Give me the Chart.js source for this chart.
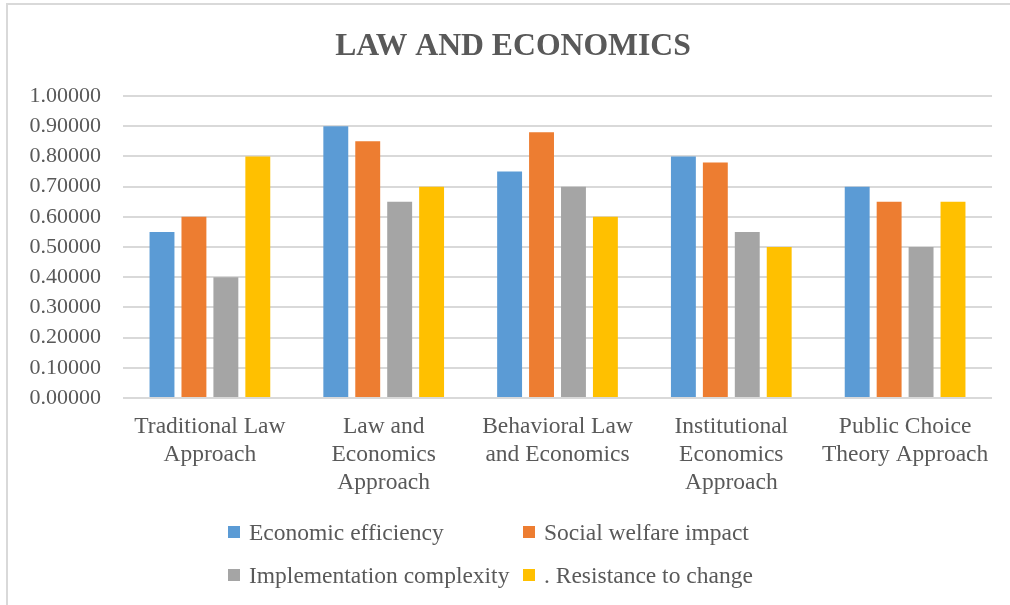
<!DOCTYPE html>
<html>
<head>
<meta charset="utf-8">
<script src="https://cdn.jsdelivr.net/npm/chart.js@4.4.0/dist/chart.umd.min.js"></script>
<style>
    body { margin: 0; background: #fff; }
    #wrap { position: relative; width: 1010px; height: 605px; overflow: hidden; }
    #frame { position: absolute; left: 6px; top: 3px; width: 1100px; height: 700px; border-left: 2px solid #d9d9d9; border-top: 2px solid #d9d9d9; }
    canvas { position: absolute; left: 0; top: 0; }
    #legend { position: absolute; left: 228px; top: 518px; display: grid; grid-template-columns: 295px auto; row-gap: 15px;
              font-family: "Liberation Serif", "Times New Roman", serif; font-size: 23.5px; color: #595959; }
    .item { display: flex; align-items: center; height: 28px; white-space: nowrap; }
    .swatch { width: 12px; height: 12px; margin-right: 9px; flex: none; }
</style>
</head>
<body>
<div id="wrap">
    <div id="frame"></div>
    <canvas id="chart" width="1010" height="605"></canvas>
    <div id="legend"></div>
</div>
<script>
const categories = [
    ["Traditional Law", "Approach"],
    ["Law and", "Economics", "Approach"],
    ["Behavioral Law", "and Economics"],
    ["Institutional", "Economics", "Approach"],
    ["Public Choice", "Theory Approach"]
];
const seriesNames = ["Economic efficiency", "Social welfare impact", "Implementation complexity", ". Resistance to change"];
const economicEfficiency = [0.55, 0.90, 0.75, 0.80, 0.70];
const socialWelfare = [0.60, 0.85, 0.88, 0.78, 0.65];
const implementationComplexity = [0.40, 0.65, 0.70, 0.55, 0.50];
const resistanceToChange = [0.80, 0.70, 0.60, 0.50, 0.65];
const colors = ["#5B9BD5", "#ED7D31", "#A5A5A5", "#FFC000"];

const serif = "'Liberation Serif', 'Times New Roman', serif";
const textColor = "#595959";

const values = [economicEfficiency, socialWelfare, implementationComplexity, resistanceToChange];
const datasets = seriesNames.map((name, i) => ({
    label: name,
    data: values[i],
    backgroundColor: colors[i],
    categoryPercentage: 0.735,
    barPercentage: 0.78
}));

const chart = new Chart(document.getElementById("chart"), {
    type: "bar",
    data: { labels: categories, datasets: datasets },
    options: {
        responsive: false,
        animation: false,
        layout: { padding: { left: 16, right: 0, top: 0, bottom: 0 } },
        plugins: {
            legend: { display: false },
            tooltip: { enabled: false },
            title: {
                display: true,
                text: "LAW AND ECONOMICS",
                color: textColor,
                font: { family: serif, size: 31.7, weight: "bold" },
                padding: { top: 28, bottom: 30 }
            }
        },
        scales: {
            x: {
                grid: { display: false },
                border: { display: false },
                ticks: {
                    color: textColor,
                    font: { family: serif, size: 23.5, lineHeight: 1.19 },
                    padding: 7,
                    maxRotation: 0,
                    autoSkip: false
                },
                afterFit: (scale) => { scale.height = 207; }
            },
            y: {
                min: 0,
                max: 1,
                grid: { color: "#d9d9d9", lineWidth: 2, drawTicks: false },
                border: { display: false },
                ticks: {
                    stepSize: 0.1,
                    color: textColor,
                    font: { family: serif, size: 22 },
                    padding: 22,
                    callback: (v) => Number(v).toFixed(5)
                },
                afterFit: (scale) => { scale.width = 107; }
            },
            // empty right margin so the title centres like the original
            spacer: {
                type: "linear",
                position: "right",
                display: true,
                grid: { display: false },
                border: { display: false },
                ticks: { display: false },
                afterFit: (scale) => { scale.width = 18; }
            }
        }
    }
});

// legend as two aligned columns, built from the chart's datasets
const legend = document.getElementById("legend");
chart.data.datasets.forEach((ds) => {
    const item = document.createElement("div");
    item.className = "item";
    const sw = document.createElement("span");
    sw.className = "swatch";
    sw.style.background = ds.backgroundColor;
    const label = document.createElement("span");
    label.textContent = ds.label;
    item.appendChild(sw);
    item.appendChild(label);
    legend.appendChild(item);
});
</script>
</body>
</html>
